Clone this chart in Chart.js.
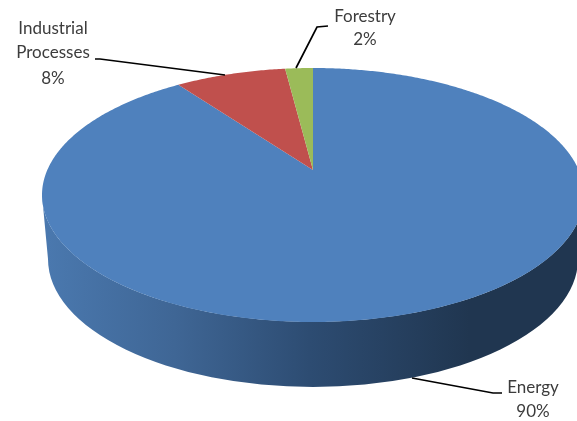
<!DOCTYPE html>
<html>
<head>
<meta charset="utf-8">
<title>Emissions by sector</title>
<script src="https://cdn.jsdelivr.net/npm/chart.js@4"></script>
<style>
   html, body { margin: 0; background: #fff; overflow: hidden; width: 577px; height: 421px; }
   canvas { display: block; }
</style>
</head>
<body>
<canvas id="pie" width="626" height="421"></canvas>
<script>
const categories = ['Energy', 'Industrial Processes', 'Forestry'];
const shares = [90, 8, 2];
const sliceColors = ['#4f81bd', '#c0504d', '#9bbb59'];

// the flat pie is squashed and tilted, the apex sits above the ellipse centre
const RX_RATIO = 271 / 195;
const RY_RATIO = 127 / 195;
const APEX_SHIFT = 25 / 127;

function project(el, angle) {
   const { x, y, outerRadius } = el.getProps(['x', 'y', 'outerRadius'], true);
   const u = Math.cos(angle);
   const v = Math.sin(angle);
   const w = 1 - APEX_SHIFT * v;
   return [
      x + u * Math.sqrt(1 - APEX_SHIFT * APEX_SHIFT) / w * outerRadius * RX_RATIO,
      y + (v - APEX_SHIFT) / w * outerRadius * RY_RATIO,
   ];
}

// slices keep the angles Chart.js worked out, only the outline is different
Chart.elements.ArcElement.prototype.draw = function (ctx) {
   const { x, y, outerRadius, startAngle, endAngle } = this.getProps(['x', 'y', 'outerRadius', 'startAngle', 'endAngle'], true);
   const steps = Math.ceil((endAngle - startAngle) / 0.01);
   ctx.save();
   ctx.beginPath();
   ctx.moveTo(x, y - APEX_SHIFT * outerRadius * RY_RATIO);
   for (let i = 0; i <= steps; i++) {
      const p = project(this, startAngle + (endAngle - startAngle) * i / steps);
      ctx.lineTo(p[0], p[1]);
   }
   ctx.closePath();
   ctx.fillStyle = this.options.backgroundColor;
   ctx.fill();
   ctx.restore();
};

const sideWall = {
   id: 'sideWall',
   beforeDatasetsDraw(chart) {
      const { ctx } = chart;
      const el = chart.getDatasetMeta(0).data[0];
      const rx = el.outerRadius * RX_RATIO;
      const ry = el.outerRadius * RY_RATIO;
      const grad = ctx.createLinearGradient(48, 0, 470, 0);
      grad.addColorStop(0, '#4a78ae');
      grad.addColorStop(0.3, '#3f6695');
      grad.addColorStop(0.62, '#2d4c72');
      grad.addColorStop(1, '#203650');
      ctx.save();
      ctx.beginPath();
      ctx.ellipse(el.x, el.y, rx, ry, 0, Math.PI, 0, true);
      ctx.ellipse(el.x, el.y + 64, rx - 6, ry + 1, 0, 0, Math.PI, false);
      ctx.closePath();
      ctx.fillStyle = grad;
      ctx.fill();
      ctx.restore();
   },
};

const labelLines = [
   [[412, 378], [493, 393], [502, 393]],
   [[225, 75], [100, 59], [95, 59]],
   [[296, 68], [317, 27], [328, 26]],
];
const labelSpots = [
   { x: 533, y: [388, 412] },
   { x: 53, y: [29, 53, 79] },
   { x: 365, y: [17, 40] },
];

const calloutLabels = {
   id: 'calloutLabels',
   afterDatasetsDraw(chart) {
      const { ctx } = chart;
      ctx.save();
      ctx.strokeStyle = '#000';
      ctx.lineWidth = 1.7;
      labelLines.forEach((line) => {
         ctx.beginPath();
         line.forEach((p, i) => (i ? ctx.lineTo(p[0], p[1]) : ctx.moveTo(p[0], p[1])));
         ctx.stroke();
      });
      ctx.font = '17px Lato';
      ctx.fillStyle = '#3c3c3c';
      ctx.textAlign = 'center';
      ctx.textBaseline = 'middle';
      categories.forEach((name, i) => {
         const rows = name.split(' ').concat(shares[i] + '%');
         rows.forEach((row, r) => ctx.fillText(row, labelSpots[i].x, labelSpots[i].y[r]));
      });
      ctx.restore();
   },
};

new Chart(document.getElementById('pie').getContext('2d'), {
   type: 'pie',
   data: {
      labels: categories,
      datasets: [
         {
            data: shares,
            backgroundColor: sliceColors,
            borderWidth: 0,
         },
      ],
   },
   options: {
      responsive: false,
      animation: false,
      layout: { padding: { bottom: 31 } },
      plugins: {
         legend: { display: false },
         tooltip: { enabled: false },
      },
   },
   plugins: [sideWall, calloutLabels],
});
</script>
</body>
</html>
